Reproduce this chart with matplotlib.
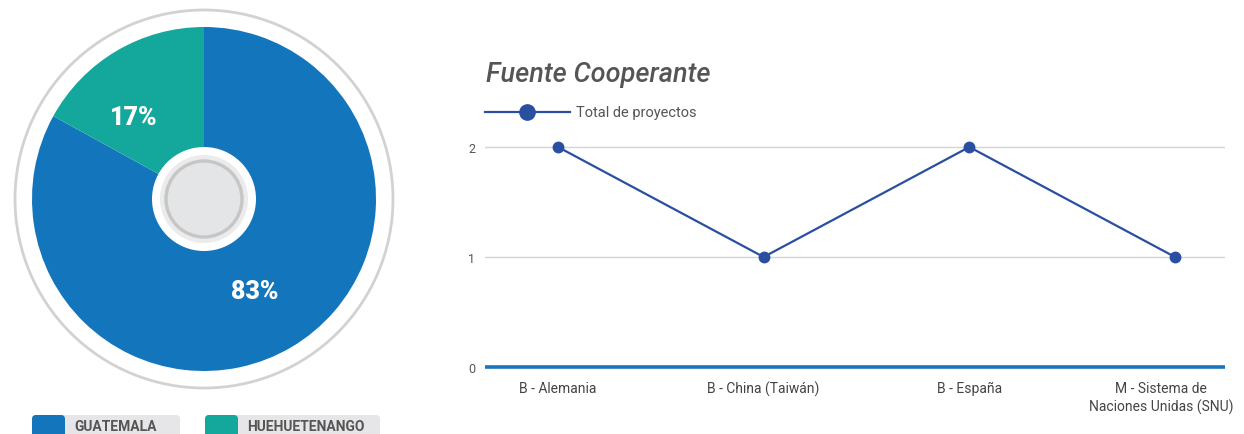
import matplotlib
matplotlib.use("Agg")
import matplotlib.pyplot as plt
from matplotlib.patches import Circle, FancyBboxPatch
from matplotlib.transforms import ScaledTranslation

# ---- data ----
pie_labels = ["GUATEMALA", "HUEHUETENANGO"]
pie_values = [83, 17]
pie_colors = ["#1375bc", "#14a89d"]

categories = ["B - Alemania", "B - China (Taiwán)", "B - España",
              "M - Sistema de\nNaciones Unidas (SNU)"]
totals = [2, 1, 2, 1]
series_name = "Total de proyectos"
title = "Fuente Cooperante"
y_ticks = [0, 1, 2]

W, H = 1244, 435
fig = plt.figure(figsize=(W / 100, H / 100), dpi=100)
fig.patch.set_facecolor("white")
FONT = "Roboto"
GRAY = "#555555"

def fx(px):
    return px / W

def fy(py):
    return 1 - py / H

# ---- pie ----
cx, cy = 204, 200
pax = fig.add_axes([fx(cx - 200), fy(cy + 200), 400 / W, 400 / H])
pax.add_patch(Circle((0, 0), 189, facecolor="white", edgecolor="#d2d2d2", lw=2.0, zorder=0))
wedges, _ = pax.pie(pie_values, colors=pie_colors, startangle=90, counterclock=False,
                    radius=172, center=(0, 0), wedgeprops=dict(linewidth=0))
pax.add_patch(Circle((0, 0), 52, facecolor="white", edgecolor="none", zorder=5))
pax.add_patch(Circle((0, 0), 44, facecolor="#ebebeb", edgecolor="none", zorder=6))
pax.add_patch(Circle((0, 0), 38, facecolor="#e3e5e6", edgecolor="#c6c6c6", lw=2.4, zorder=7))
pax.set_xlim(-200, 200)
pax.set_ylim(-200, 200)
pax.set_aspect("equal")
pax.axis("off")
total = sum(pie_values)
pax.text(-70, 82, f"{round(pie_values[1] / total * 100)}%", color="white", fontsize=18,
         fontweight="black", family=FONT, ha="center", va="center", zorder=10)
pax.text(51, -92, f"{round(pie_values[0] / total * 100)}%", color="white", fontsize=18,
         fontweight="black", family=FONT, ha="center", va="center", zorder=10)

# pie legend
bg = fig.add_axes([0, 0, 1, 1], zorder=-5)
bg.set_xlim(0, W)
bg.set_ylim(H, 0)
bg.axis("off")
leg_x = [32, 205]
leg_w = [148, 175]
for x0, w, lab, col in zip(leg_x, leg_w, pie_labels, pie_colors):
    bg.add_patch(FancyBboxPatch((x0, 416), w, 30, boxstyle="round,pad=0,rounding_size=4",
                                facecolor="#e6e6e8", edgecolor="none"))
    bg.add_patch(FancyBboxPatch((x0, 416), 33, 30, boxstyle="round,pad=0,rounding_size=4",
                                facecolor=col, edgecolor="none"))
    bg.text(x0 + 42, 427, lab, color=GRAY, fontsize=10, fontweight="bold",
            family=FONT, ha="left", va="center")

# ---- line chart ----
left_px, right_px = 485, 1225
y0_px, unit = 368, 110
ylo, yhi = -0.05, 2.25
bot_px = y0_px - ylo * unit
top_px = y0_px - yhi * unit
ax = fig.add_axes([fx(left_px), fy(bot_px), (right_px - left_px) / W, (bot_px - top_px) / H])
xs = list(range(len(categories)))
spacing = 205.7
ax.set_xlim(-(558 - left_px) / spacing, 3 + (right_px - 1175) / spacing)
ax.set_ylim(ylo, yhi)
for v in y_ticks[1:]:
    ax.axhline(v, color="#d4d4d4", lw=1.0, zorder=1)
ax.axhline(0, color="#1a75bc", lw=2.6, zorder=2)
ln, = ax.plot(xs, totals, color="#2a4fa0", lw=1.6, marker="o", markersize=7.5,
              markerfacecolor="#2a4fa0", markeredgecolor="#2a4fa0", zorder=3)
for s in ax.spines.values():
    s.set_visible(False)
ax.set_yticks(y_ticks)
ax.set_yticklabels([str(v) for v in y_ticks], family=FONT, fontsize=9, color=GRAY)
ax.set_xticks(xs)
ax.set_xticklabels(categories, family=FONT, fontsize=10, color="#444444", linespacing=1.3)
ax.tick_params(axis="both", length=0)
ax.tick_params(axis="y", pad=7)
ax.tick_params(axis="x", pad=6)
ax.set_facecolor("none")
last = ax.get_xticklabels()[-1]
last.set_transform(last.get_transform() + ScaledTranslation(-14 / 100, 0, fig.dpi_scale_trans))

# title and legend
fig.text(fx(486), fy(75), title, family=FONT, fontsize=19.5, fontstyle="italic",
         fontweight="medium", color=GRAY, ha="left", va="center")
bg.plot([485, 570], [112.5, 112.5], color="#2a4fa0", lw=1.6)
bg.plot([527], [112.5], marker="o", markersize=11, color="#2a4fa0")
bg.text(576, 112.5, series_name, family=FONT, fontsize=10.5, color=GRAY, ha="left", va="center")

fig.savefig("out.png", dpi=100)
